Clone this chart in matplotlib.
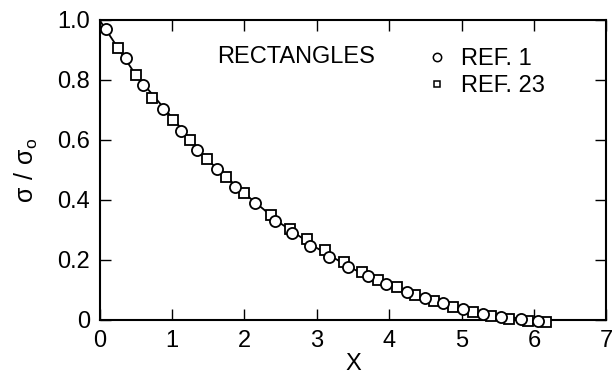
import numpy as np
import matplotlib
matplotlib.use("Agg")
import matplotlib.pyplot as plt
from matplotlib.lines import Line2D

plt.rcParams['font.family'] = ['Liberation Sans', 'DejaVu Sans']

# REF. 1 (circles)
ref1_x = [0.09, 0.37, 0.60, 0.88, 1.13, 1.35, 1.62, 1.87, 2.14, 2.42, 2.66, 2.91, 3.17,
          3.43, 3.71, 3.96, 4.24, 4.50, 4.74, 5.02, 5.29, 5.54, 5.82, 6.05]
ref1_y = [0.969, 0.872, 0.783, 0.702, 0.631, 0.567, 0.502, 0.442, 0.389, 0.331, 0.289, 0.248, 0.209,
          0.178, 0.147, 0.119, 0.094, 0.072, 0.055, 0.036, 0.019, 0.011, 0.003, -0.003]

# REF. 23 (squares)
ref23_x = [0.25, 0.50, 0.73, 1.01, 1.25, 1.49, 1.74, 1.99, 2.37, 2.63, 2.87, 3.11,
           3.38, 3.62, 3.85, 4.11, 4.36, 4.62, 4.88, 5.15, 5.40, 5.66, 5.91, 6.17]
ref23_y = [0.908, 0.817, 0.739, 0.667, 0.600, 0.535, 0.475, 0.423, 0.350, 0.303, 0.269, 0.233,
           0.194, 0.161, 0.133, 0.109, 0.083, 0.064, 0.044, 0.028, 0.014, 0.002, -0.002, -0.006]

# solid curve
curve_x = [0.0, 0.5, 1.0, 1.5, 2.0, 2.5, 3.0, 3.5, 4.0, 4.5, 5.0, 5.5, 6.0, 6.1]
curve_y = [1.0, 0.817, 0.675, 0.532, 0.422, 0.322, 0.240, 0.170, 0.117, 0.073, 0.037, 0.012, 0.001, 0.0]

fs = 17

fig = plt.figure(figsize=(6.12, 3.79), dpi=100)
ax = fig.add_axes([0.1626, 0.1557, 0.8284, 0.7916])

ax.plot(curve_x, curve_y, color='black', lw=1.3, zorder=2)
ax.plot(ref23_x, ref23_y, ls='none', marker='s', ms=6.5, mfc='white', mec='black', mew=1.3,
        zorder=3, clip_on=False)
ax.plot(ref1_x, ref1_y, ls='none', marker='o', ms=8, mfc='white', mec='black', mew=1.3,
        zorder=4, clip_on=False)

ax.set_xlim(0, 7)
ax.set_ylim(0, 1.0)
ax.set_xticks(range(0, 8))
ax.set_yticks([0, 0.2, 0.4, 0.6, 0.8, 1.0])
ax.set_yticklabels(['0', '0.2', '0.4', '0.6', '0.8', '1.0'])
ax.tick_params(direction='in', length=8, width=1, top=True, right=True,
               labelsize=fs, pad=7)
for s in ax.spines.values():
    s.set_linewidth(1.5)

ax.set_xlabel('X', fontsize=fs, labelpad=1)
ax.set_ylabel(r'$\mathregular{\sigma\ /\ \sigma_o}$', fontsize=fs + 1, labelpad=12)

ax.text(2.71, 0.877, 'RECTANGLES', fontsize=fs, ha='center', va='center')

handles = [Line2D([], [], ls='none', marker='o', ms=6, mfc='white', mec='black', mew=1.1),
           Line2D([], [], ls='none', marker='s', ms=5, mfc='white', mec='black', mew=1.1)]
ax.legend(handles, ['REF. 1', 'REF. 23'], loc='upper left', bbox_to_anchor=(0.651, 0.905),
          frameon=False, fontsize=fs, handlelength=0.6, handletextpad=0.73,
          labelspacing=0.2, borderaxespad=0, borderpad=0)

fig.savefig('out.png', dpi=100)
